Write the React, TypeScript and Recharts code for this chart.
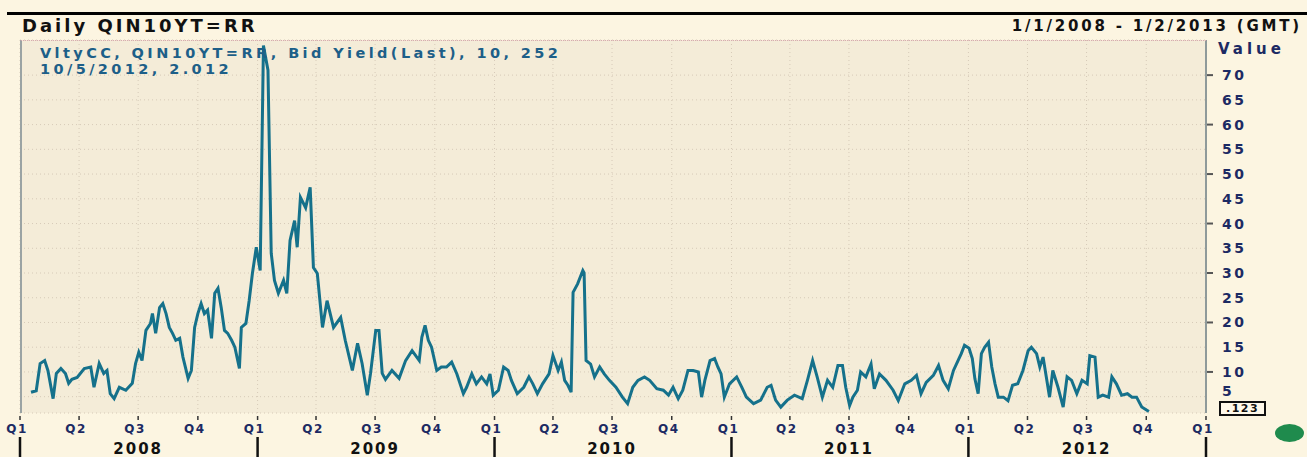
import React from "react";
import { LineChart, Line, XAxis, YAxis, CartesianGrid } from "recharts";

// daily bid-yield volatility, sampled roughly weekly off the chart
const dates = [
  // 2008
  "2008-01-18", "2008-01-26",
  "2008-02-01", "2008-02-08", "2008-02-13", "2008-02-21", "2008-02-26",
  "2008-03-04", "2008-03-11", "2008-03-16", "2008-03-21", "2008-03-29",
  "2008-04-09", "2008-04-19", "2008-04-24",
  "2008-05-02", "2008-05-09", "2008-05-14", "2008-05-19", "2008-05-25",
  "2008-06-02", "2008-06-12", "2008-06-22", "2008-06-27",
  "2008-07-02", "2008-07-07", "2008-07-13", "2008-07-20", "2008-07-23", "2008-07-28",
  "2008-08-03", "2008-08-08", "2008-08-13", "2008-08-18", "2008-08-23", "2008-08-28",
  "2008-09-03", "2008-09-08", "2008-09-16", "2008-09-21", "2008-09-26",
  "2008-10-01", "2008-10-06", "2008-10-11", "2008-10-16", "2008-10-22", "2008-10-27",
  "2008-11-01", "2008-11-06", "2008-11-11", "2008-11-16", "2008-11-22", "2008-11-27",
  "2008-12-04", "2008-12-07", "2008-12-14", "2008-12-19", "2008-12-24", "2008-12-30",
  // 2009
  "2009-01-05", "2009-01-10", "2009-01-17", "2009-01-22", "2009-01-27",
  "2009-02-02", "2009-02-10", "2009-02-15", "2009-02-20", "2009-02-27",
  "2009-03-03", "2009-03-08", "2009-03-16", "2009-03-23", "2009-03-28",
  "2009-04-03", "2009-04-11", "2009-04-18", "2009-04-28",
  "2009-05-09", "2009-05-16", "2009-05-27",
  "2009-06-04", "2009-06-11", "2009-06-19", "2009-06-24",
  "2009-07-02", "2009-07-07", "2009-07-12", "2009-07-17", "2009-07-27",
  "2009-08-07", "2009-08-17", "2009-08-27",
  "2009-09-07", "2009-09-11", "2009-09-16", "2009-09-21", "2009-09-26",
  "2009-10-04", "2009-10-11", "2009-10-19", "2009-10-27",
  "2009-11-04", "2009-11-14", "2009-11-19", "2009-11-27",
  "2009-12-04", "2009-12-12", "2009-12-20", "2009-12-25", "2009-12-30",
  // 2010
  "2010-01-07", "2010-01-15", "2010-01-22", "2010-01-27",
  "2010-02-05", "2010-02-15", "2010-02-23",
  "2010-03-01", "2010-03-08", "2010-03-16", "2010-03-26",
  "2010-04-01", "2010-04-09", "2010-04-14", "2010-04-19", "2010-04-24", "2010-04-29",
  "2010-05-02", "2010-05-09", "2010-05-17", "2010-05-19", "2010-05-22", "2010-05-29",
  "2010-06-04", "2010-06-12", "2010-06-19", "2010-06-27",
  "2010-07-07", "2010-07-17", "2010-07-25",
  "2010-08-02", "2010-08-10", "2010-08-20", "2010-08-28",
  "2010-09-08", "2010-09-18", "2010-09-26",
  "2010-10-03", "2010-10-11", "2010-10-18", "2010-10-26",
  "2010-11-03", "2010-11-11", "2010-11-16", "2010-11-21", "2010-11-29",
  "2010-12-06", "2010-12-11", "2010-12-16", "2010-12-21", "2010-12-29",
  // 2011
  "2011-01-09", "2011-01-17", "2011-01-24",
  "2011-02-04", "2011-02-15", "2011-02-25",
  "2011-03-03", "2011-03-10", "2011-03-18", "2011-03-28",
  "2011-04-08", "2011-04-20", "2011-04-28",
  "2011-05-06", "2011-05-13", "2011-05-21", "2011-05-29",
  "2011-06-06", "2011-06-14", "2011-06-21", "2011-06-26",
  "2011-07-02", "2011-07-07", "2011-07-14", "2011-07-19", "2011-07-27",
  "2011-08-04", "2011-08-09", "2011-08-17", "2011-08-27",
  "2011-09-07", "2011-09-15", "2011-09-25",
  "2011-10-05", "2011-10-13", "2011-10-20", "2011-10-28",
  "2011-11-08", "2011-11-16", "2011-11-23",
  "2011-12-01", "2011-12-09", "2011-12-16", "2011-12-21", "2011-12-26",
  // 2012
  "2012-01-02", "2012-01-07", "2012-01-11", "2012-01-16", "2012-01-21", "2012-01-26",
  "2012-02-01", "2012-02-06", "2012-02-11", "2012-02-16", "2012-02-24",
  "2012-03-02", "2012-03-09", "2012-03-17", "2012-03-25",
  "2012-04-02", "2012-04-07", "2012-04-15", "2012-04-20", "2012-04-25", "2012-04-30",
  "2012-05-05", "2012-05-10", "2012-05-18", "2012-05-26",
  "2012-06-01", "2012-06-08", "2012-06-16", "2012-06-24",
  "2012-07-02", "2012-07-06", "2012-07-14", "2012-07-19", "2012-07-26",
  "2012-08-04", "2012-08-09", "2012-08-16", "2012-08-24",
  "2012-09-02", "2012-09-09", "2012-09-16", "2012-09-24",
  "2012-10-05",
];

const bidYieldVol = [
  // 2008
  5.9, 6.2,
  11.7, 12.3, 10.3, 4.6, 9.7,
  10.7, 9.7, 7.7, 8.5, 8.9,
  10.7, 11, 6.9,
  11.7, 9.7, 10.3, 5.6, 4.6,
  6.9, 6.3, 7.7, 11.7,
  14, 12.3, 18.4, 19.8, 21.8, 17.8,
  23, 23.8, 21.8, 19, 17.8, 16.4,
  16.8, 13, 8.7, 10.3, 19,
  21.8, 23.8, 21.8, 22.5, 16.8, 25.9,
  26.9, 23, 18.4, 17.8, 16.4, 15,
  10.7, 19, 19.8, 24.4, 29.9, 35.2,
  // 2009
  30.5, 76, 71, 34, 28.5,
  25.9, 28.5, 25.9, 36.6, 40.6,
  35.2, 45.3, 43.2, 47.3, 31.1,
  29.9, 19, 24.4, 19,
  21, 16.4, 10.3,
  15.8, 11.7, 5.3, 9.7,
  18.4, 18.4, 9.7, 8.5, 10.3,
  8.7, 12.3, 14.3,
  12.3, 17, 19.4, 16.4, 15,
  10.3, 11, 11, 12,
  9.6, 5.6, 6.9, 9.6,
  7.6, 9, 7.6, 9.6, 5.3,
  // 2010
  6.3, 11, 10.3, 8.3,
  5.6, 6.9, 9,
  7.6, 5.6, 7.6, 9.6,
  13.3, 10.3, 12, 8.3, 7.3, 5.9,
  26.1, 27.8, 30.5, 30, 12.3, 11.6,
  9, 11, 9.6, 8.3,
  6.9, 4.9, 3.6,
  6.9, 8.3, 9, 8.3,
  6.6, 6.3, 5.3,
  6.9, 4.6, 6.3, 10.3,
  10.3, 10, 4.9, 8.3, 12.3,
  12.7, 11, 9.6, 4.9, 7.6,
  // 2011
  9, 6.9, 4.9,
  3.6, 4.3, 6.9,
  7.3, 4.3, 2.9, 4.3,
  5.3, 4.6, 8.3,
  12.3, 9, 4.9, 8.3,
  6.9, 11.3, 11.3, 6.9,
  3.2, 4.9, 6.3, 10, 9,
  11.6, 6.6, 9.6, 8.3,
  6.3, 4.2, 7.6,
  8.3, 9.3, 5.6, 7.9,
  9.3, 11.3, 8.3,
  6.6, 10.3, 12.3, 13.7, 15.4,
  // 2012
  14.8, 12.7, 8.6, 5.6, 13.7, 15,
  16, 11, 7.6, 4.9, 4.9,
  4.2, 7.3, 7.6, 10.3,
  14.3, 15, 13.7, 11, 13, 9,
  4.9, 10.3, 6.9, 2.9,
  9, 8.3, 5.6, 8.3,
  7.6, 13.3, 13, 4.9, 5.3,
  4.9, 9, 7.6, 5.3,
  5.6, 4.9, 4.9, 2.9,
  2.0,
];

const years = [2008, 2009, 2010, 2011, 2012];
const quarterLabels = ["Q1", "Q2", "Q3", "Q4"];
const valueTicks = [5, 10, 15, 20, 25, 30, 35, 40, 45, 50, 55, 60, 65, 70];

const data = dates.map((d, i) => ({ t: Date.parse(d), v: bidYieldVol[i] }));

const quarterTicks: number[] = [];
years.forEach((y) => [0, 3, 6, 9].forEach((m) => quarterTicks.push(Date.UTC(y, m, 1))));
quarterTicks.push(Date.UTC(2013, 0, 1));

const W = 1307;
const H = 457;
const PLOT_LEFT = 20;
const PLOT_TOP = 40;
const PLOT_RIGHT = 1206;
const PLOT_BOTTOM = 413;
const FONT = "'DejaVu Sans', Verdana, sans-serif";
const NAVY = "#1c2a63";

const QuarterTick = (props: any) => {
  const { x, payload } = props;
  const d = new Date(payload.value);
  const q = Math.floor(d.getUTCMonth() / 3);
  return (
    <g>
      <line x1={x} x2={x} y1={PLOT_BOTTOM + 3} y2={PLOT_BOTTOM + 7} stroke="#333" strokeWidth={1.5} />
      {q === 0 && (
        <line x1={x} x2={x} y1={PLOT_BOTTOM + 24} y2={H} stroke="#111" strokeWidth={2.5} />
      )}
      <text
        x={x - 3}
        y={PLOT_BOTTOM + 20}
        textAnchor="middle"
        fontFamily={FONT}
        fontSize={12}
        fontWeight="bold"
        letterSpacing={1.5}
        fill={NAVY}
      >
        {quarterLabels[q]}
      </text>
      {q === 2 && (
        <text
          x={x}
          y={PLOT_BOTTOM + 41}
          textAnchor="middle"
          fontFamily={FONT}
          fontSize={15}
          fontWeight="bold"
          letterSpacing={2}
          fill="#111"
        >
          {d.getUTCFullYear()}
        </text>
      )}
    </g>
  );
};

const ValueTick = (props: any) => {
  const { y, payload } = props;
  const v = payload.value;
  // the lowest label sits a little higher to clear the last-value flag
  const dy = v === 5 ? -1 : 5;
  return (
    <g>
      {v % 10 === 0 && (
        <line x1={PLOT_RIGHT + 1} x2={PLOT_RIGHT + 7} y1={y} y2={y} stroke="#555" strokeWidth={2} />
      )}
      <text
        x={PLOT_RIGHT + 16}
        y={y + dy}
        fontFamily={FONT}
        fontSize={14}
        fontWeight="bold"
        letterSpacing={2.5}
        fill={NAVY}
      >
        {v}
      </text>
    </g>
  );
};

const abs = (style: React.CSSProperties): React.CSSProperties => ({
  position: "absolute",
  fontFamily: FONT,
  fontWeight: "bold",
  whiteSpace: "nowrap",
  ...style,
});

export default function App() {
  return (
    <div
      style={{
        position: "absolute",
        left: 0,
        top: 0,
        width: W,
        height: H,
        background: "#fcf5e1",
        overflow: "hidden",
      }}
    >
      <LineChart
        width={W}
        height={H}
        data={data}
        margin={{ top: PLOT_TOP, right: W - PLOT_RIGHT - 60, bottom: 0, left: PLOT_LEFT }}
      >
        <CartesianGrid fill="#f4ecd8" stroke="#d6cab8" strokeDasharray="1 3" />
        <XAxis
          dataKey="t"
          type="number"
          scale="time"
          domain={[Date.UTC(2008, 0, 1), Date.UTC(2013, 0, 1)]}
          ticks={quarterTicks}
          interval={0}
          height={H - PLOT_BOTTOM}
          axisLine={false}
          tickLine={false}
          tick={<QuarterTick />}
        />
        <YAxis
          orientation="right"
          width={60}
          domain={[1.7, 77.1]}
          ticks={valueTicks}
          interval={0}
          allowDataOverflow
          axisLine={{ stroke: "#8f9a9a", strokeWidth: 2 }}
          tickLine={false}
          tick={<ValueTick />}
        />
        <Line
          type="linear"
          dataKey="v"
          stroke="#15718b"
          strokeWidth={3}
          dot={false}
          isAnimationActive={false}
        />
      </LineChart>

      {/* plot frame */}
      <div
        style={{
          position: "absolute",
          left: PLOT_LEFT,
          top: PLOT_TOP,
          width: PLOT_RIGHT - PLOT_LEFT,
          height: PLOT_BOTTOM - PLOT_TOP,
          borderLeft: "2px solid #9aa3a3",
          borderTop: "1px dotted #d9a9b0",
          boxSizing: "border-box",
          pointerEvents: "none",
        }}
      />

      {/* header */}
      <div style={{ position: "absolute", left: 7, top: 12, width: W - 7, height: 3, background: "#000" }} />
      <div style={abs({ left: 22, top: 15, fontSize: 18, letterSpacing: 3, color: "#111" })}>
        Daily QIN10YT=RR
      </div>
      <div style={abs({ right: 5, top: 17, fontSize: 15, letterSpacing: 2.8, color: "#111" })}>
        1/1/2008 - 1/2/2013 (GMT)
      </div>
      <div style={abs({ left: 1218, top: 40, fontSize: 15, letterSpacing: 4, color: NAVY })}>Value</div>

      {/* in-plot legend */}
      <div style={abs({ left: 40, top: 45, fontSize: 14.5, letterSpacing: 3.4, color: "#1d5f88", lineHeight: "16px" })}>
        VltyCC, QIN10YT=RR, Bid Yield(Last), 10, 252
        <br />
        10/5/2012, 2.012
      </div>

      {/* last-value flag */}
      <div
        style={abs({
          left: 1219,
          top: 401,
          fontSize: 11,
          letterSpacing: 1.5,
          border: "2px solid #111",
          padding: "0 5px",
          lineHeight: "11px",
          background: "#fff9ea",
          color: "#111",
        })}
      >
        .123
      </div>

      <div
        style={{
          position: "absolute",
          left: 1275,
          top: 424,
          width: 29,
          height: 18,
          borderRadius: "50%",
          background: "#1f8b4d",
        }}
      />
    </div>
  );
}
